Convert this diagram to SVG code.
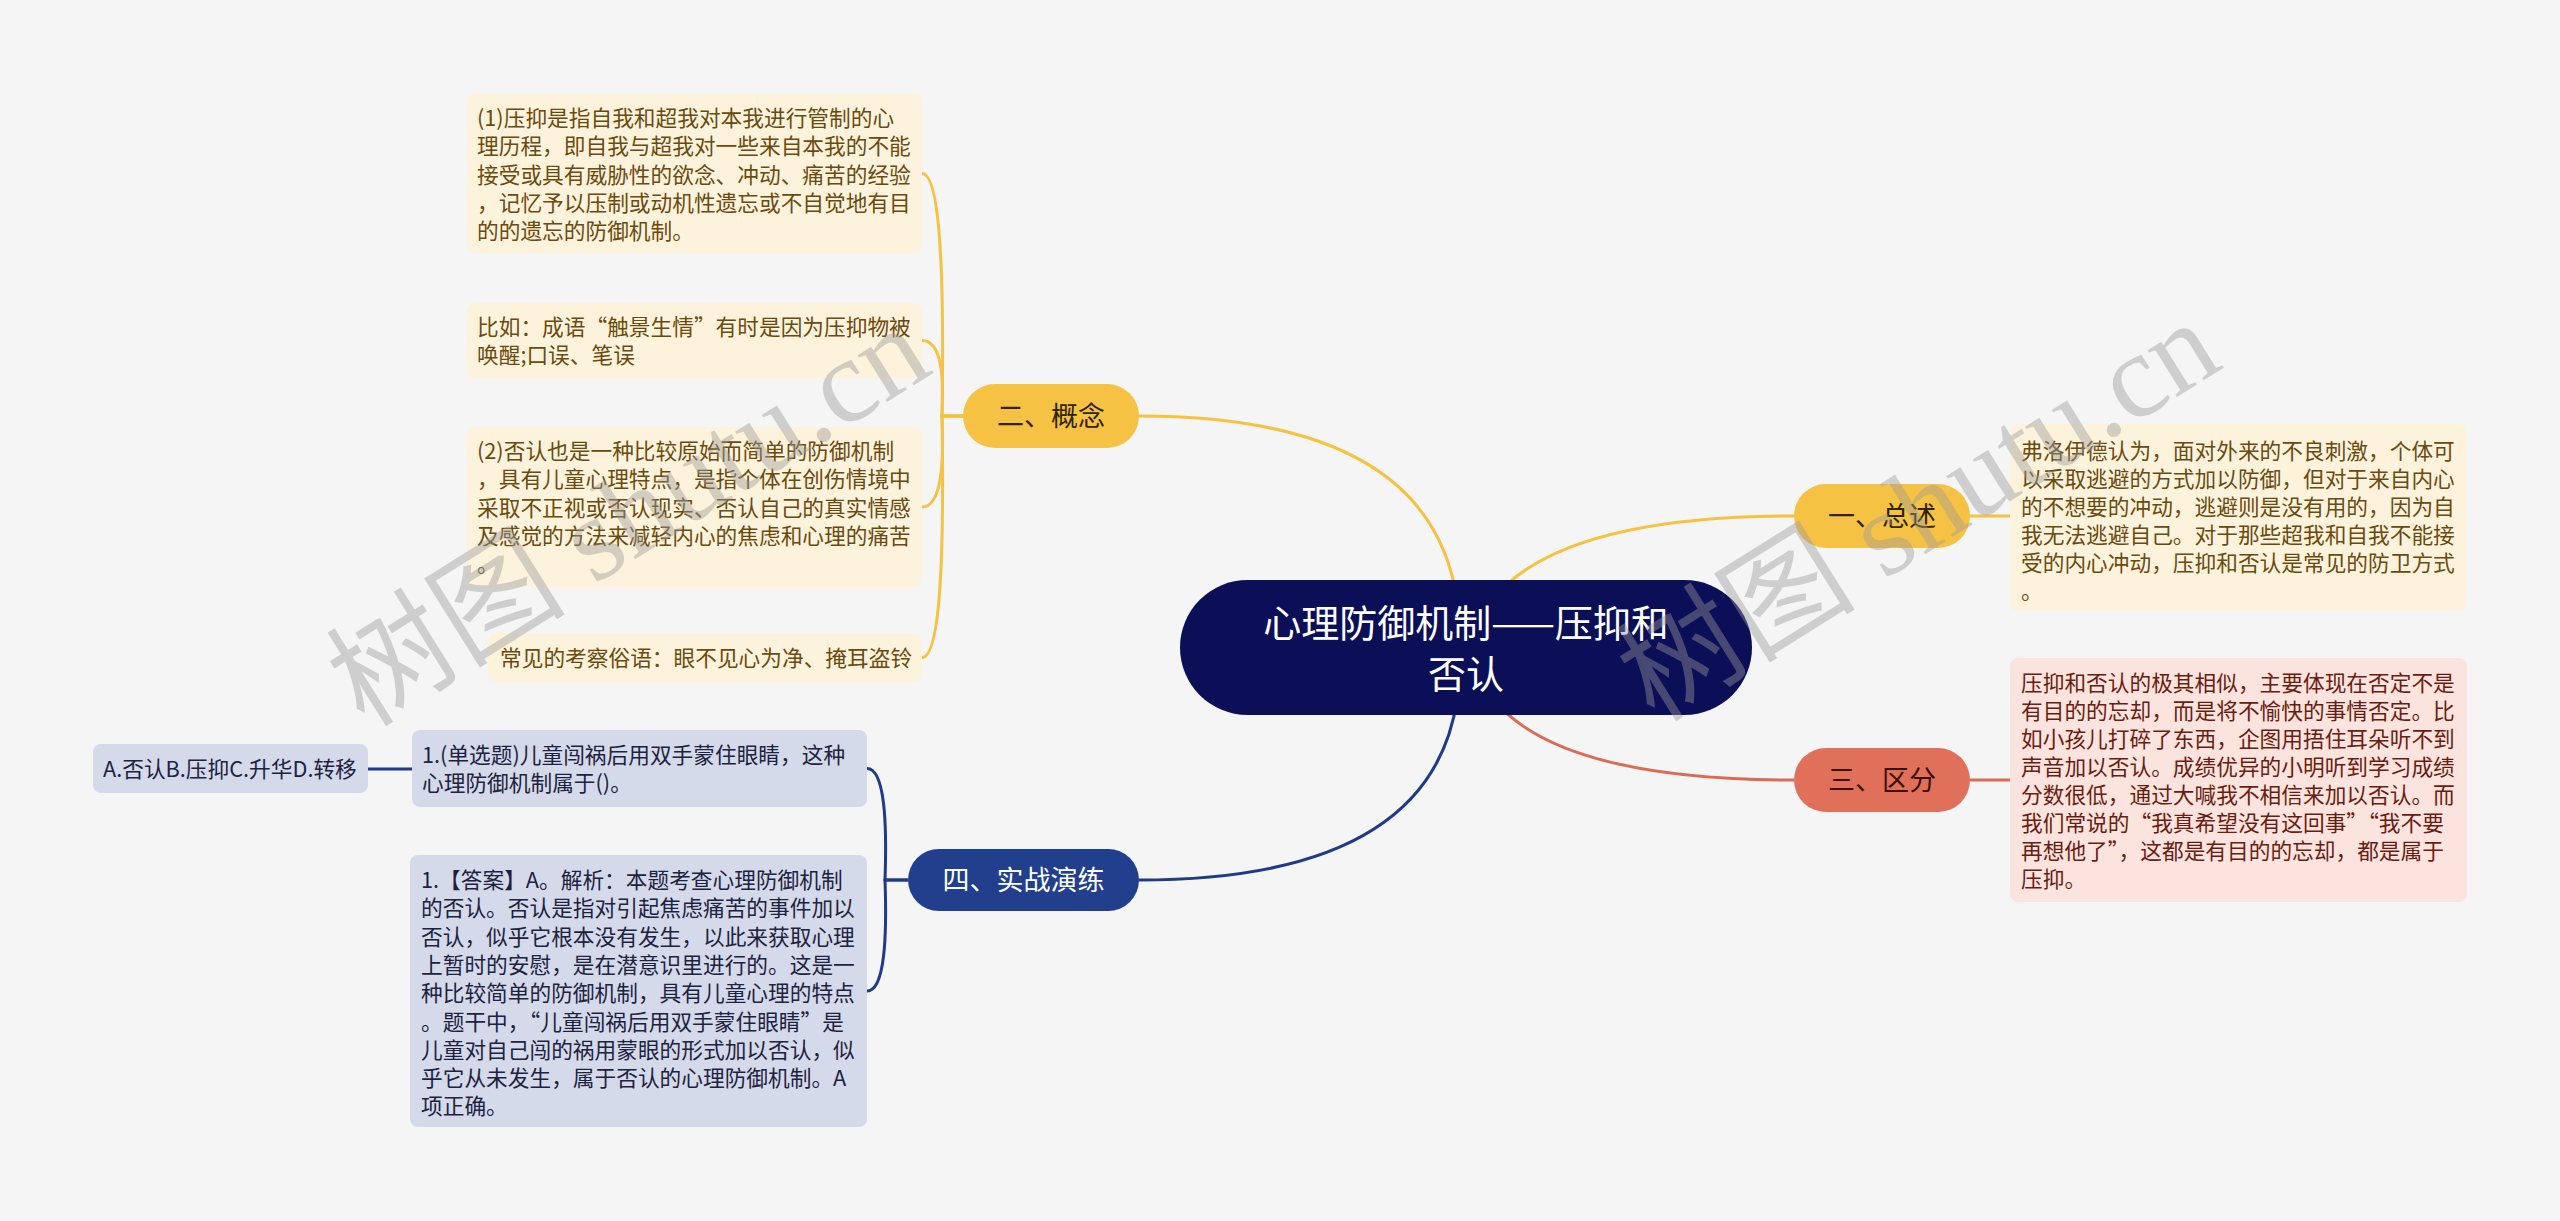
<svg xmlns="http://www.w3.org/2000/svg" width="2560" height="1221" viewBox="0 0 2560 1221">
<style>
text{font-family:"Noto Sans CJK SC","Noto Sans",sans-serif}
.t{font-size:21.7px}
.ty{fill:#6b4a0e}
.tr{fill:#6a1c10}
.tb{fill:#1d2240}
.by{fill:#fdf3dc}
.br{fill:#fbe4de}
.bb{fill:#d4daea}
.lnY{fill:none;stroke:#f5c242;stroke-width:3}
.lnR{fill:none;stroke:#dc6a54;stroke-width:3}
.lnB{fill:none;stroke:#1f3a86;stroke-width:3}
.mt{font-size:27px;text-anchor:middle}
.wm{font-family:"Liberation Serif","Noto Sans CJK SC",serif;font-size:120px;fill:#9a9a9a;opacity:0.42;text-anchor:middle}
</style>
<rect width="2560" height="1221" fill="#f5f5f5"/>
<g id="connectors">
<path class="lnY" d="M1457,600 Q1430,416 1139,416"/>
<path class="lnY" d="M1492,600 Q1560,516 1794,516"/>
<path class="lnR" d="M1494,700 Q1560,780 1794,780"/>
<path class="lnB" d="M1457,700 Q1430,880 1139,880"/>
<path class="lnY" d="M963,416 L942,416 C944,295 942,173.5 922,173.5"/>
<path class="lnY" d="M963,416 L942,416 C944,378 942,340.5 922,340.5"/>
<path class="lnY" d="M963,416 L942,416 C944,461 942,507 922,507"/>
<path class="lnY" d="M963,416 L942,416 C944,537 942,657.5 922,657.5"/>
<path class="lnB" d="M908,880 L885,880 C887,824 885,768.5 867,768.5"/>
<path class="lnB" d="M908,880 L885,880 C887,936 885,991 867,991"/>
<line class="lnB" x1="368" y1="769" x2="412" y2="769"/>
<line class="lnY" x1="1970" y1="516" x2="2010" y2="516"/>
<line class="lnR" x1="1970" y1="780" x2="2010" y2="780"/>
</g>
<g id="center">
<rect x="1180" y="580" width="572" height="135" rx="67.5" fill="#0b0f58"/>
<text x="1466" y="637" font-size="38" fill="#ffffff" text-anchor="middle">心理防御机制——压抑和</text>
<text x="1466" y="688" font-size="38" fill="#ffffff" text-anchor="middle">否认</text>
</g>
<g id="b2">
<rect x="963" y="384" width="176" height="64" rx="32" fill="#f6c244"/>
<text class="mt" x="1051" y="426" fill="#2e2303">二、概念</text>
</g>
<g id="b1">
<rect x="1794" y="484" width="176" height="64" rx="32" fill="#f6c244"/>
<text class="mt" x="1882" y="526" fill="#2e2303">一、总述</text>
</g>
<g id="b3">
<rect x="1794" y="748" width="176" height="64" rx="32" fill="#e0705a"/>
<text class="mt" x="1882" y="790" fill="#3a1008">三、区分</text>
</g>
<g id="b4">
<rect x="908" y="849" width="231" height="62" rx="31" fill="#213f8c"/>
<text class="mt" x="1023.5" y="890" fill="#ffffff">四、实战演练</text>
</g>
<g id="leaf-c1">
<rect class="by" x="467" y="94" width="455" height="159" rx="8"/>
<text class="t ty"><tspan x="477" y="126">(1)压抑是指自我和超我对本我进行管制的心</tspan><tspan x="477" y="154.3">理历程，即自我与超我对一些来自本我的不能</tspan><tspan x="477" y="182.6">接受或具有威胁性的欲念、冲动、痛苦的经验</tspan><tspan x="477" y="210.9">，记忆予以压制或动机性遗忘或不自觉地有目</tspan><tspan x="477" y="239.2">的的遗忘的防御机制。</tspan></text>
</g>
<g id="leaf-c2">
<rect class="by" x="467" y="303" width="455" height="75" rx="8"/>
<text class="t ty"><tspan x="477" y="335">比如：成语“触景生情”有时是因为压抑物被</tspan><tspan x="477" y="363.3">唤醒;口误、笔误</tspan></text>
</g>
<g id="leaf-c3">
<rect class="by" x="467" y="427" width="455" height="160" rx="8"/>
<text class="t ty"><tspan x="477" y="459">(2)否认也是一种比较原始而简单的防御机制</tspan><tspan x="477" y="487.3">，具有儿童心理特点，是指个体在创伤情境中</tspan><tspan x="477" y="515.6">采取不正视或否认现实、否认自己的真实情感</tspan><tspan x="477" y="543.9">及感觉的方法来减轻内心的焦虑和心理的痛苦</tspan><tspan x="477" y="572.2">。</tspan></text>
</g>
<g id="leaf-c4">
<rect class="by" x="488" y="633" width="434" height="49" rx="8"/>
<text class="t ty" x="500" y="666">常见的考察俗语：眼不见心为净、掩耳盗铃</text>
</g>
<g id="leaf-r1">
<rect class="by" x="2010" y="424" width="456" height="187" rx="8"/>
<text class="t ty"><tspan x="2021" y="459">弗洛伊德认为，面对外来的不良刺激，个体可</tspan><tspan x="2021" y="487">以采取逃避的方式加以防御，但对于来自内心</tspan><tspan x="2021" y="515">的不想要的冲动，逃避则是没有用的，因为自</tspan><tspan x="2021" y="543">我无法逃避自己。对于那些超我和自我不能接</tspan><tspan x="2021" y="571">受的内心冲动，压抑和否认是常见的防卫方式</tspan><tspan x="2021" y="599">。</tspan></text>
</g>
<g id="leaf-r3">
<rect class="br" x="2010" y="658" width="457" height="244" rx="8"/>
<text class="t tr"><tspan x="2021" y="691">压抑和否认的极其相似，主要体现在否定不是</tspan><tspan x="2021" y="719">有目的的忘却，而是将不愉快的事情否定。比</tspan><tspan x="2021" y="747">如小孩儿打碎了东西，企图用捂住耳朵听不到</tspan><tspan x="2021" y="775">声音加以否认。成绩优异的小明听到学习成绩</tspan><tspan x="2021" y="803">分数很低，通过大喊我不相信来加以否认。而</tspan><tspan x="2021" y="831">我们常说的“我真希望没有这回事”“我不要</tspan><tspan x="2021" y="859">再想他了”，这都是有目的的忘却，都是属于</tspan><tspan x="2021" y="887">压抑。</tspan></text>
</g>
<g id="leaf-q1">
<rect class="bb" x="412" y="730" width="455" height="77" rx="8"/>
<text class="t tb"><tspan x="422" y="763">1.(单选题)儿童闯祸后用双手蒙住眼睛，这种</tspan><tspan x="422" y="791">心理防御机制属于()。</tspan></text>
</g>
<g id="leaf-opt">
<rect class="bb" x="93" y="744" width="275" height="49" rx="8"/>
<text class="t tb" x="103" y="777">A.否认B.压抑C.升华D.转移</text>
</g>
<g id="leaf-ans">
<rect class="bb" x="410" y="855" width="457" height="272" rx="8"/>
<text class="t tb"><tspan x="421" y="888">1.【答案】A。解析：本题考查心理防御机制</tspan><tspan x="421" y="916.3">的否认。否认是指对引起焦虑痛苦的事件加以</tspan><tspan x="421" y="944.6">否认，似乎它根本没有发生，以此来获取心理</tspan><tspan x="421" y="972.9">上暂时的安慰，是在潜意识里进行的。这是一</tspan><tspan x="421" y="1001.2">种比较简单的防御机制，具有儿童心理的特点</tspan><tspan x="421" y="1029.5">。题干中，“儿童闯祸后用双手蒙住眼睛”是</tspan><tspan x="421" y="1057.8">儿童对自己闯的祸用蒙眼的形式加以否认，似</tspan><tspan x="421" y="1086.1">乎它从未发生，属于否认的心理防御机制。A</tspan><tspan x="421" y="1114.4">项正确。</tspan></text>
</g>
<g id="watermarks">
<text class="wm" transform="translate(650,550) rotate(-32)">树图 shutu.cn</text>
<text class="wm" transform="translate(1940,545) rotate(-32)">树图 shutu.cn</text>
</g>
</svg>
